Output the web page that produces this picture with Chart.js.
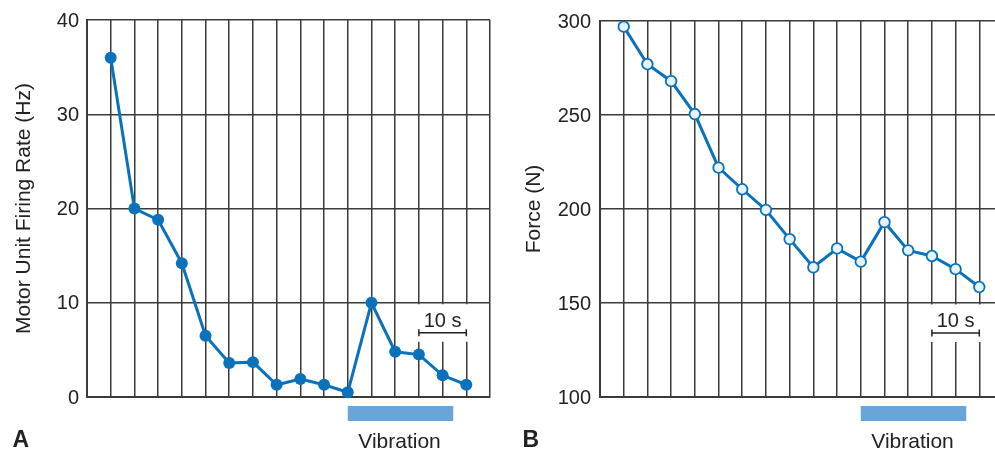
<!DOCTYPE html>
<html>
<head>
<meta charset="utf-8">
<script src="https://cdn.jsdelivr.net/npm/chart.js@4.4.1/dist/chart.umd.min.js"></script>
<style>
  html, body { margin: 0; padding: 0; background: #fff; overflow: hidden; }
  #wrap { position: relative; width: 995px; height: 452px; overflow: hidden; }
  #panelA { position: absolute; left: 0; top: 0; }
  #panelB { position: absolute; left: 500px; top: 0; }
</style>
</head>
<body>
<div id="wrap">
  <canvas id="panelA" width="500" height="452"></canvas>
  <canvas id="panelB" width="513" height="452"></canvas>
</div>
<script>
// Sample positions (one per grid column)
const samples = [1, 2, 3, 4, 5, 6, 7, 8, 9, 10, 11, 12, 13, 14, 15, 16];

// Panel A — motor unit firing rate (Hz)
const firingRate = [36, 20, 18.8, 14.2, 6.5, 3.6, 3.7, 1.3, 1.9, 1.3, 0.5, 10, 4.8, 4.5, 2.3, 1.3];
const firingTicks = [0, 10, 20, 30, 40];

// Panel B — force (N)
const force = [297, 277, 268, 250.5, 222, 210.5, 199.5, 184, 169, 179, 172, 193, 178, 175, 168, 158.5];
const forceTicks = [100, 150, 200, 250, 300];

// Annotations shared by both panels
const vibrationSpan = [11, 15.45];
const scaleBarSpan = [14, 16];
const scaleBarLabel = '10 s';
const vibrationLabel = 'Vibration';

const FONT = "'Liberation Sans', Arial, Helvetica, sans-serif";
const LINE_BLUE = '#0a72bb';
const GRID = '#3a3a3a';

/**
 * Draws the blanked gap + scale bar, the vibration bar and the panel letter.
 */
const panelExtras = {
  id: 'panelExtras',
  beforeDatasetsDraw(chart, args, opts) {
    const { ctx, scales: { x, y } } = chart;
    const gy = y.getPixelForValue(opts.barAt);
    const x0 = x.getPixelForValue(scaleBarSpan[0]);
    const x1 = x.getPixelForValue(scaleBarSpan[1]);

    // white out grid lines behind the scale bar
    ctx.save();
    ctx.fillStyle = '#fff';
    ctx.fillRect(x0 - 8, gy + 1.5, x1 - x0 + 16, 37.5);

    // scale bar
    ctx.strokeStyle = '#222';
    ctx.lineWidth = 1.5;
    ctx.beginPath();
    ctx.moveTo(x0, gy + 30);
    ctx.lineTo(x1, gy + 30);
    ctx.moveTo(x0, gy + 26.5);
    ctx.lineTo(x0, gy + 33.5);
    ctx.moveTo(x1, gy + 26.5);
    ctx.lineTo(x1, gy + 33.5);
    ctx.stroke();

    ctx.fillStyle = '#222';
    ctx.font = '20px ' + FONT;
    ctx.textAlign = 'center';
    ctx.textBaseline = 'alphabetic';
    ctx.fillText(scaleBarLabel, (x0 + x1) / 2, gy + 24);
    ctx.restore();
  },
  afterDraw(chart, args, opts) {
    const { ctx, chartArea, scales: { x } } = chart;
    const v0 = x.getPixelForValue(vibrationSpan[0]);
    const v1 = x.getPixelForValue(vibrationSpan[1]);
    ctx.save();
    ctx.fillStyle = '#6aa5da';
    ctx.fillRect(v0, chartArea.bottom + 9, v1 - v0, 15);

    ctx.fillStyle = '#222';
    ctx.font = '21px ' + FONT;
    ctx.textAlign = 'center';
    ctx.textBaseline = 'alphabetic';
    ctx.fillText(vibrationLabel, (v0 + v1) / 2 - 1, chartArea.bottom + 51);

    ctx.font = 'bold 23px ' + FONT;
    ctx.textAlign = 'left';
    ctx.fillText(opts.letter, opts.letterX, 447);
    ctx.restore();
  },
};

function makePanel(canvasId, cfg) {
  const hollow = cfg.hollow;
  return new Chart(document.getElementById(canvasId), {
    type: 'line',
    data: {
      datasets: [
        {
          data: samples.map((s, i) => ({ x: s, y: cfg.values[i] })),
          borderColor: LINE_BLUE,
          borderWidth: 3,
          backgroundColor: LINE_BLUE,
          pointBackgroundColor: hollow ? '#e8f2fb' : LINE_BLUE,
          pointBorderColor: LINE_BLUE,
          pointBorderWidth: hollow ? 1.8 : 0,
          pointRadius: hollow ? 5.3 : 6,
          tension: 0,
          clip: false,
        },
      ],
    },
    options: {
      responsive: false,
      animation: false,
      events: [],
      layout: { padding: { left: 0, top: 16, right: 10, bottom: 55 } },
      plugins: {
        legend: { display: false },
        tooltip: { enabled: false },
        panelExtras: { barAt: cfg.barAt, letter: cfg.letter, letterX: cfg.letterX },
      },
      scales: {
        x: {
          type: 'linear',
          min: 0,
          max: 17,
          ticks: { display: false, stepSize: 1, autoSkip: false },
          grid: { color: GRID, lineWidth: 1.5, drawTicks: false },
          border: { color: GRID, width: 2 },
          afterFit: (scale) => { scale.height = 0; },
        },
        y: {
          min: cfg.ticks[0],
          max: cfg.ticks[cfg.ticks.length - 1],
          afterBuildTicks: (scale) => { scale.ticks = cfg.ticks.map((v) => ({ value: v })); },
          ticks: {
            color: '#222',
            padding: cfg.tickPad,
            labelOffset: 1,
            font: { family: FONT, size: 20 },
          },
          grid: { color: GRID, lineWidth: 1.5, drawTicks: false },
          border: { color: GRID, width: 2 },
          title: {
            display: true,
            text: cfg.title,
            color: '#222',
            font: { family: FONT, size: 21 },
            padding: { top: cfg.titlePad, bottom: 0 },
          },
          afterFit: (scale) => { scale.width = cfg.axisWidth; },
        },
      },
    },
    plugins: [panelExtras],
  });
}

makePanel('panelA', {
  values: firingRate,
  ticks: firingTicks,
  title: 'Motor Unit Firing Rate (Hz)',
  axisWidth: 87,
  tickPad: 8,
  titlePad: 11.4,
  barAt: 10,
  letter: 'A',
  letterX: 12.5,
  hollow: false,
});

makePanel('panelB', {
  values: force,
  ticks: forceTicks,
  title: 'Force (N)',
  axisWidth: 100,
  tickPad: 9,
  titlePad: 21.4,
  barAt: 150,
  letter: 'B',
  letterX: 22.5,
  hollow: true,
});
</script>
</body>
</html>
